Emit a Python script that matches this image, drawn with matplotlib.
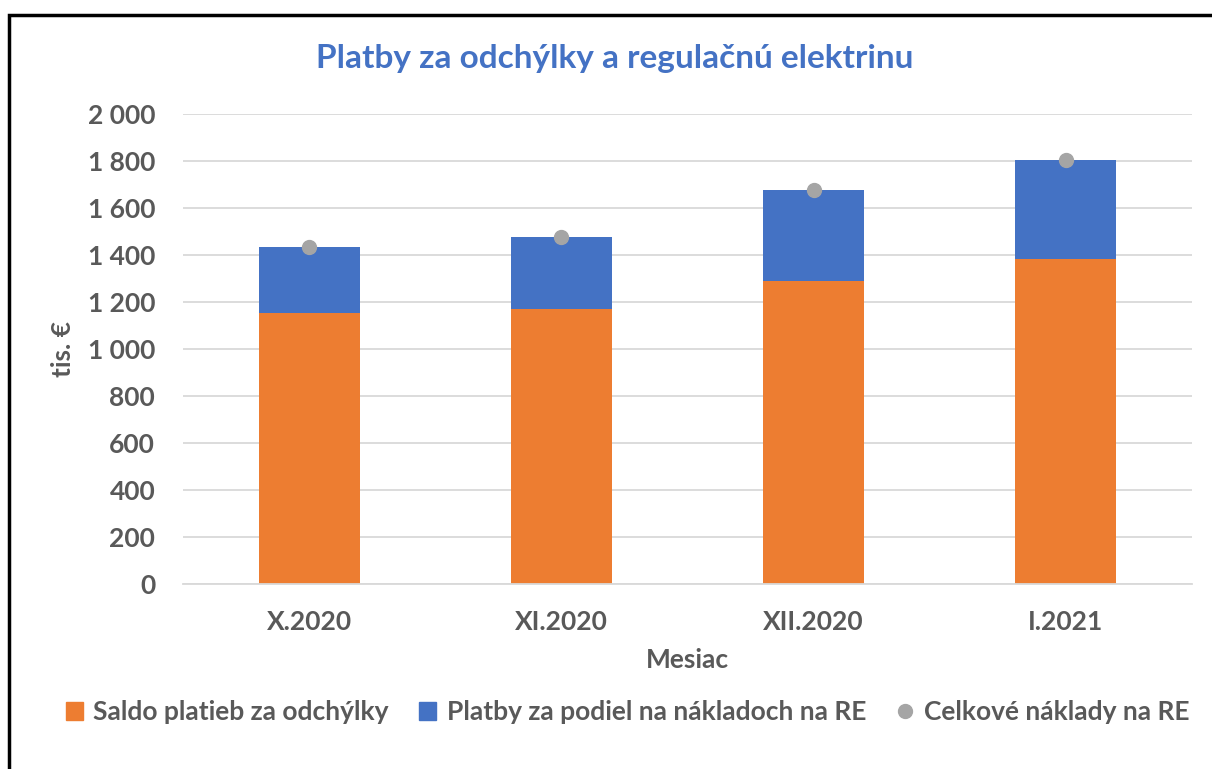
import matplotlib.pyplot as plt
from matplotlib.lines import Line2D
from matplotlib.patches import Patch, Rectangle
from matplotlib.ticker import FuncFormatter

months = ['X.2020', 'XI.2020', 'XII.2020', 'I.2021']
saldo = [1155, 1172, 1288, 1383]
podiel = [277, 305, 389, 422]
celkove = [1432, 1477, 1677, 1805]

TEXT = '#595959'
plt.rcParams['font.family'] = ['Lato', 'DejaVu Sans']
plt.rcParams['font.weight'] = 'bold'
plt.rcParams['axes.labelweight'] = 'bold'


def main():
    fig = plt.figure(figsize=(12.12, 7.69), dpi=100)
    ax = fig.add_axes([0.151, 0.2406, 0.8325, 0.6112])

    x = range(len(months))
    ax.bar(x, saldo, width=0.4, color='#ED7D31', zorder=2)
    ax.bar(x, podiel, width=0.4, bottom=saldo, color='#4472C4', zorder=2)
    ax.plot(x, celkove, 'o', color='#A5A5A5', markersize=10, zorder=3)

    ax.set_xlim(-0.5, len(months) - 0.5)
    ax.set_ylim(0, 2000)
    ax.set_yticks(range(0, 2001, 200))
    ax.yaxis.set_major_formatter(FuncFormatter(lambda v, p: f'{v:,.0f}'.replace(',', ' ')))
    ax.set_xticks(list(x))
    ax.set_xticklabels(months)
    ax.grid(axis='y', color='#D9D9D9', linewidth=1.3, zorder=0)
    for s in ['top', 'right', 'left']:
        ax.spines[s].set_visible(False)
    ax.spines['bottom'].set_color('#D9D9D9')
    ax.spines['bottom'].set_linewidth(1.3)
    ax.tick_params(length=0, labelsize=19, labelcolor=TEXT)
    ax.tick_params(axis='x', pad=19)
    ax.tick_params(axis='y', pad=20)

    ax.set_xlabel('Mesiac', fontsize=19, color=TEXT, labelpad=10)
    ax.set_ylabel('tis. €', fontsize=19, color=TEXT, labelpad=9)

    fig.text(0.507, 0.924, 'Platby za odchýlky a regulačnú elektrinu',
             ha='center', va='center', fontsize=24, color='#4472C4')

    handles = [Patch(color='#ED7D31'), Patch(color='#4472C4'),
               Line2D([], [], marker='o', linestyle='', color='#A5A5A5', markersize=10)]
    labels = ['Saldo platieb za odchýlky', 'Platby za podiel na nákladoch na RE',
              'Celkové náklady na RE']
    fig.legend(handles, labels, loc='center', bbox_to_anchor=(0.518, 0.074), ncol=3,
               frameon=False, fontsize=19, labelcolor=TEXT, handlelength=0.65,
               handleheight=0.65, handletextpad=0.4, columnspacing=1.15)

    # outer frame (top and left edges visible)
    fig.patches.append(Rectangle((0.0075, -0.05), 1.2, 1.03, transform=fig.transFigure,
                                 fill=False, edgecolor='black', linewidth=2.5))

    fig.savefig('out.png', dpi=100)


if __name__ == '__main__':
    main()
